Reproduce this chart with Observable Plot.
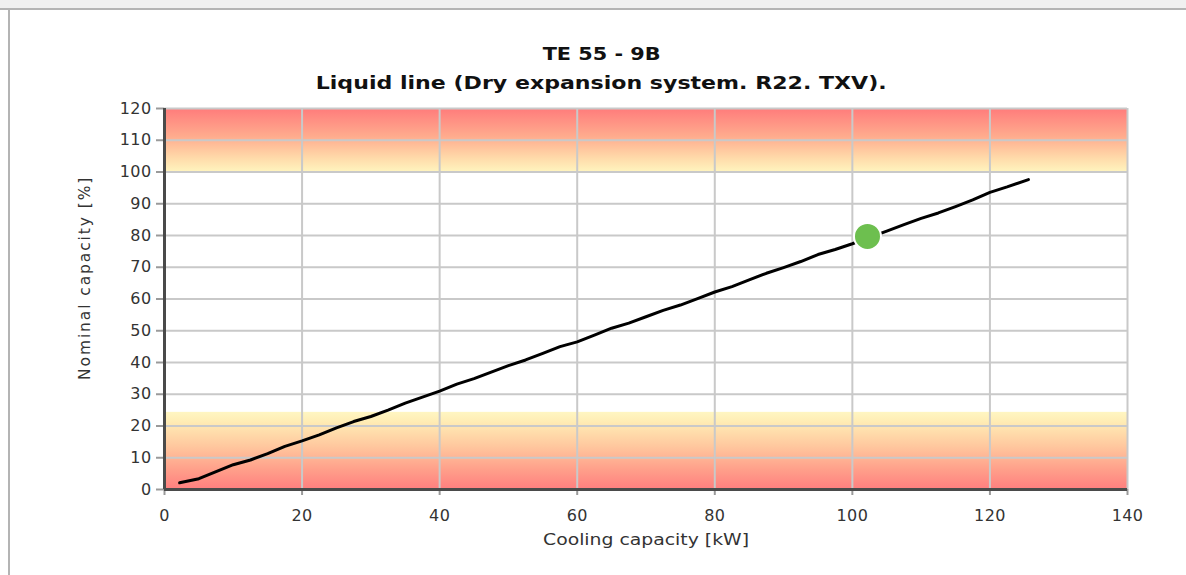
<!DOCTYPE html>
<html>
<head>
<meta charset="utf-8">
<script src="https://cdn.jsdelivr.net/npm/d3@7"></script>
<script src="https://cdn.jsdelivr.net/npm/@observablehq/plot@0.6"></script>
<style>
  html, body { margin: 0; padding: 0; background: #fff; }
  #page { position: relative; width: 1186px; height: 575px; overflow: hidden; font-family: "DejaVu Sans", Verdana, sans-serif; }
  #topbar { position: absolute; left: 0; top: 0; width: 1186px; height: 8px; background: #f0f0f0; border-bottom: 2px solid #b4b4b4; }
  #leftbar { position: absolute; left: 8px; top: 8px; width: 2px; height: 567px; background: #b4b4b4; }
  .title { position: absolute; left: 0; width: 1203px; text-align: center; font-weight: bold; font-size: 17.5px; color: #111; white-space: nowrap; }
  .title span { display: inline-block; transform-origin: center; }
  #chart { position: absolute; left: 0; top: 100px; }
</style>
</head>
<body>
<div id="page">
  <div id="topbar"></div>
  <div id="leftbar"></div>
  <div class="title" id="t1" style="top:44px"><span data-w="118">TE 55 - 9B</span></div>
  <div class="title" id="t2" style="top:73px"><span data-w="571">Liquid line (Dry expansion system. R22. TXV).</span></div>
  <div id="chart"></div>
</div>
<script>
// ---- data ----
const capacityKW = [2.2, 5, 7.5, 10, 12.5, 15, 17.5, 20, 22.5, 25, 27.5, 30, 32.5, 35, 37.5, 40, 42.5, 45, 47.5, 50,
  52.5, 55, 57.5, 60, 62.5, 65, 67.5, 70, 72.5, 75, 77.5, 80, 82.5, 85, 87.5, 90, 92.5, 95, 97.5, 100,
  105, 107.5, 110, 112.5, 115, 117.5, 120, 122.5, 125.6];
const nominalPct = [2.1, 3.4, 5.6, 7.8, 9.3, 11.3, 13.6, 15.3, 17.2, 19.4, 21.4, 23.0, 25.0, 27.2, 29.1, 31.0, 33.2, 34.9, 37.0, 39.0,
  40.8, 42.9, 45.0, 46.5, 48.6, 50.8, 52.4, 54.4, 56.4, 58.1, 60.1, 62.2, 63.9, 66.0, 68.1, 69.9, 71.8, 74.0, 75.6, 77.4,
  81.4, 83.4, 85.4, 87.1, 89.1, 91.2, 93.6, 95.3, 97.6];
const operatingX = [102.2];
const operatingY = [79.7];
const xTicks = [0, 20, 40, 60, 80, 100, 120, 140];
const yTicks = [0, 10, 20, 30, 40, 50, 60, 70, 80, 90, 100, 110, 120];
const xDomain = [0, 140];
const yDomain = [0, 120];
const lowBand = [0, 24.3];
const highBand = [100, 120];
const xLabel = "Cooling capacity [kW]";
const yLabel = "Nominal capacity [%]";

const curve = capacityKW.map((x, i) => ({x, y: nominalPct[i]}));
const point = operatingX.map((x, i) => ({x, y: operatingY[i]}));
const bands = [
  {x1: xDomain[0], x2: xDomain[1], y1: lowBand[0], y2: lowBand[1]},
  {x1: xDomain[0], x2: xDomain[1], y1: highBand[0], y2: highBand[1]}
];

const chart = Plot.plot({
  width: 1186,
  height: 475,
  marginLeft: 164,
  marginRight: 59,
  marginTop: 8,
  marginBottom: 86,
  style: {fontFamily: "DejaVu Sans, Verdana, sans-serif", background: "transparent", overflow: "visible"},
  x: {domain: xDomain},
  y: {domain: yDomain},
  marks: [
    Plot.rect(bands.slice(0, 1), {x1: "x1", x2: "x2", y1: "y1", y2: "y2", fill: "url(#gradLow)"}),
    Plot.rect(bands.slice(1), {x1: "x1", x2: "x2", y1: "y1", y2: "y2", fill: "url(#gradHigh)"}),
    Plot.gridY(yTicks.slice(1), {stroke: "#c9c9c9", strokeOpacity: 1, strokeWidth: 2}),
    Plot.gridX(xTicks.slice(1), {stroke: "#c9c9c9", strokeOpacity: 1, strokeWidth: 2}),
    Plot.axisY({ticks: yTicks, tickSize: 8, tickPadding: 5, stroke: "#9a9a9a", strokeWidth: 2, fill: "#333", fontSize: 16, label: null, tickFormat: d => String(d)}),
    Plot.axisX({ticks: xTicks, tickSize: 6, tickPadding: 14, stroke: "#9a9a9a", strokeWidth: 2, fill: "#333", fontSize: 16, label: null, tickFormat: d => String(d)}),
    Plot.ruleX([xDomain[0]], {stroke: "#4a4a4a", strokeWidth: 3}),
    Plot.ruleY([yDomain[0]], {stroke: "#4a4a4a", strokeWidth: 3}),
    Plot.line(curve, {x: "x", y: "y", stroke: "#000", strokeWidth: 3, strokeLinejoin: "round", strokeLinecap: "round"}),
    Plot.dot(point, {x: "x", y: "y", r: 13.5, fill: "#6dbf4f", stroke: "#fff", strokeWidth: 2}),
    Plot.text([xLabel], {frameAnchor: "bottom", dy: 55, fontSize: 15.5, fill: "#333"}),
    Plot.text([yLabel], {frameAnchor: "left", dx: -79, dy: 81, rotate: -90, fontSize: 15.5, fill: "#333"})
  ]
});

const svg = d3.select(chart);
const defs = svg.insert("defs", ":first-child");
function addGrad(id, stops) {
  const g = defs.append("linearGradient").attr("id", id).attr("x1", 0).attr("y1", 0).attr("x2", 0).attr("y2", 1);
  stops.forEach(([o, c]) => g.append("stop").attr("offset", o).attr("stop-color", c));
}
addGrad("gradHigh", [[0, "#ff7b7b"], [0.45, "#ffac8e"], [0.8, "#ffdcab"], [1, "#fff4be"]]);
addGrad("gradLow", [[0, "#fff6c2"], [0.12, "#ffedb5"], [0.45, "#ffc79e"], [0.75, "#ff9f8a"], [1, "#ff7f7f"]]);

// widen the texts to the reference's text lengths
svg.selectAll("text").each(function() {
  const t = this.textContent;
  if (t === xLabel) d3.select(this).attr("textLength", 206).attr("lengthAdjust", "spacingAndGlyphs");
  else if (t === yLabel) d3.select(this).style("letter-spacing", "1.9px");
});
svg.selectAll("g[aria-label='y-axis tick label'] text, g[aria-label='x-axis tick label'] text").style("letter-spacing", "0.4px");

document.getElementById("chart").appendChild(chart);

// stretch title lines to their reference widths
document.querySelectorAll(".title span").forEach(s => {
  const w = s.getBoundingClientRect().width;
  const target = +s.dataset.w;
  s.style.transform = `scaleX(${target / w})`;
});
</script>
</body>
</html>
